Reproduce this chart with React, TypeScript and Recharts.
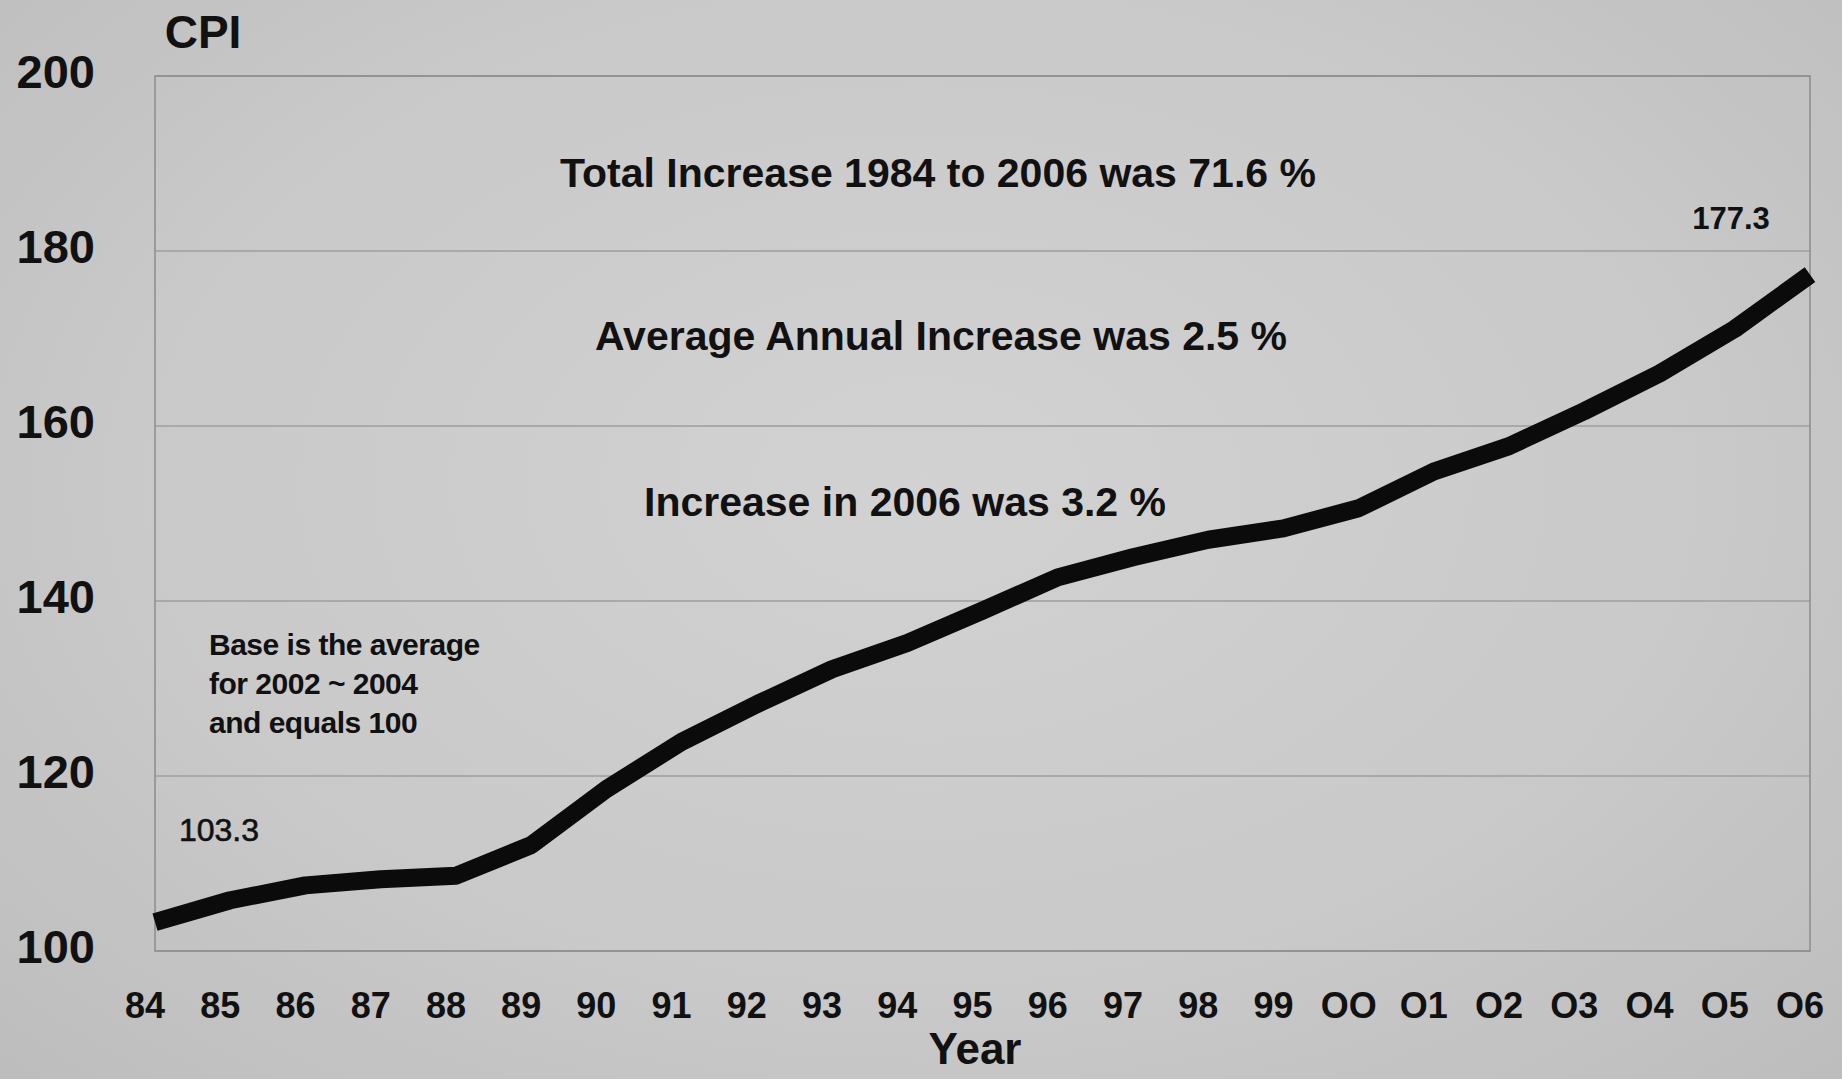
import {
  LineChart,
  Line,
  XAxis,
  YAxis,
  CartesianGrid,
  ReferenceArea,
  LabelList,
} from "recharts";

const years = [
  "84", "85", "86", "87", "88", "89", "90", "91", "92", "93", "94", "95",
  "96", "97", "98", "99", "OO", "O1", "O2", "O3", "O4", "O5", "O6",
];
const cpi = [
  103.3, 105.8, 107.5, 108.2, 108.6, 112.1, 118.5, 123.9, 128.2, 132.2, 135.2,
  138.9, 142.7, 145.0, 147.0, 148.3, 150.6, 154.8, 157.7, 161.7, 166.0, 171.1,
  177.3,
];
const yTicks = [100, 120, 140, 160, 180, 200];
const notes = [
  "Total Increase 1984 to 2006 was 71.6 %",
  "Average Annual Increase was 2.5 %",
  "Increase in 2006 was 3.2 %",
];
const baseNote = ["Base is the average", "for 2002 ~ 2004", "and equals 100"];

const data = years.map((year, i) => ({ year, cpi: cpi[i] }));

const FONT = "'Liberation Sans', Arial, sans-serif";
const INK = "#111";

function YTick(props: any) {
  const { x, y, payload } = props;
  return (
    <text x={x} y={y - 5} dy="0.36em" textAnchor="end" fontFamily={FONT}
      fontWeight={700} fontSize={47} fill={INK}>
      {payload.value}
    </text>
  );
}

function XTick(props: any) {
  const { x, y, payload } = props;
  return (
    <text x={x - 10} y={y} dy="0.71em" textAnchor="middle" fontFamily={FONT}
      fontWeight={700} fontSize={36} fill={INK}>
      {payload.value}
    </text>
  );
}

// only the first and last values get a label
function EndLabel(props: any) {
  const { x, y, value, index } = props;
  if (index === 0) {
    return (
      <text x={x + 64} y={y - 93} dy="0.36em" textAnchor="middle" fontFamily={FONT}
        fontWeight={400} fontSize={32} fill={INK} stroke={INK} strokeWidth={0.6}>
        {value.toFixed(1)}
      </text>
    );
  }
  if (index === cpi.length - 1) {
    return (
      <text x={x - 79} y={y - 57} dy="0.36em" textAnchor="middle" fontFamily={FONT}
        fontWeight={700} fontSize={31} fill={INK}>
        {value.toFixed(1)}
      </text>
    );
  }
  return null;
}

const textStyle = (cx: number, cy: number, size: number): React.CSSProperties => ({
  position: "absolute",
  left: cx,
  top: cy,
  transform: "translate(-50%, -50%)",
  whiteSpace: "nowrap",
  fontFamily: FONT,
  fontWeight: 700,
  fontSize: size,
  color: INK,
  lineHeight: 1,
});

export default function App() {
  const noteCenters = [
    [938, 173],
    [941, 336],
    [905, 502],
  ];
  return (
    <div
      style={{
        position: "absolute",
        left: 0,
        top: 0,
        width: 1842,
        height: 1079,
        overflow: "hidden",
        background:
          "radial-gradient(ellipse at 50% 45%, #d2d2d2 0%, #c9c9c9 60%, #bdbdbd 100%)",
      }}
    >
      <LineChart
        width={1842}
        height={1079}
        data={data}
        margin={{ top: 76, right: 32, bottom: 0, left: 0 }}
      >
        <CartesianGrid vertical={false} stroke="#a9a9a9" strokeWidth={2} />
        <ReferenceArea
          x1="84"
          x2="O6"
          y1={100}
          y2={200}
          fill="none"
          stroke="#8c8c8c"
          strokeWidth={1.5}
          ifOverflow="visible"
        />
        <XAxis
          dataKey="year"
          axisLine={false}
          tickLine={false}
          tickSize={0}
          tickMargin={41}
          height={128}
          interval={0}
          tick={<XTick />}
        />
        <YAxis
          domain={[100, 200]}
          ticks={yTicks}
          axisLine={false}
          tickLine={false}
          tickSize={0}
          tickMargin={60}
          width={155}
          tick={<YTick />}
        />
        <Line
          type="linear"
          dataKey="cpi"
          stroke="#0b0b0b"
          strokeWidth={18}
          strokeLinejoin="round"
          dot={false}
          isAnimationActive={false}
        >
          <LabelList dataKey="cpi" content={<EndLabel />} />
        </Line>
      </LineChart>

      <div style={textStyle(203, 32, 46)}>CPI</div>
      {notes.map((n, i) => (
        <div key={n} style={textStyle(noteCenters[i][0], noteCenters[i][1], 41)}>
          {n}
        </div>
      ))}
      <div
        style={{
          position: "absolute",
          left: 209,
          top: 625,
          fontFamily: FONT,
          fontWeight: 700,
          fontSize: 30,
          lineHeight: "39px",
          color: INK,
          letterSpacing: -0.5,
        }}
      >
        {baseNote.map((l) => (
          <div key={l}>{l}</div>
        ))}
      </div>
      <div style={textStyle(975, 1049, 44)}>Year</div>
    </div>
  );
}
